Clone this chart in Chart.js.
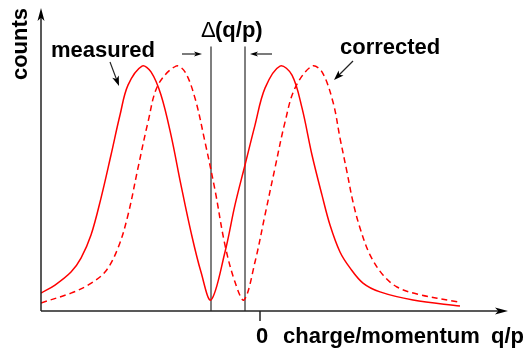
<!DOCTYPE html>
<html>
<head>
<meta charset="utf-8">
<script src="https://cdn.jsdelivr.net/npm/chart.js@4/dist/chart.umd.min.js"></script>
<style>
  html, body { margin: 0; padding: 0; background: #fff; }
  canvas { display: block; }
</style>
</head>
<body>
<canvas id="chart" width="527" height="349"></canvas>
<script>
// q/p values (arbitrary units, 0 at the tick) and counts (peak = 100)
const measuredQ = [-2.19, -2.05, -1.89, -1.79, -1.69, -1.59, -1.49, -1.40, -1.32, -1.18, -1.09, -0.99, -0.89, -0.79, -0.69, -0.59, -0.49,
  -0.35, -0.25, -0.15, -0.05, 0.05, 0.20, 0.32, 0.42, 0.52, 0.62, 0.70, 0.80, 0.90, 1.03, 1.20, 1.53, 2.00];
const measuredCounts = [7.3, 10.6, 15.9, 21.6, 31.0, 46.1, 63.7, 80.0, 92.2, 100, 97.6, 88.2, 71.8, 51.4, 32.2, 15.9, 4.5,
  24.1, 43.3, 59.6, 75.9, 91.0, 100, 96.3, 82.9, 63.7, 47.3, 35.1, 24.1, 17.6, 11.4, 7.8, 4.5, 2.0];

const correctedQ = [-2.19, -1.89, -1.72, -1.55, -1.42, -1.32, -1.22, -1.12, -1.02, -0.84, -0.75, -0.65, -0.55, -0.45, -0.35, -0.25, -0.16,
  -0.05, 0.05, 0.15, 0.25, 0.35, 0.52, 0.62, 0.73, 0.80, 0.87, 0.93, 1.00, 1.10, 1.23, 1.37, 1.57, 1.98];
const correctedCounts = [3.3, 7.3, 10.6, 15.9, 25.7, 39.2, 58.4, 77.1, 92.2, 100, 97.6, 86.9, 69.0, 49.4, 26.9, 11.8, 4.5,
  20.0, 39.2, 58.4, 77.1, 91.0, 100, 97.6, 85.3, 70.6, 56.7, 44.5, 33.9, 22.9, 14.7, 9.8, 6.9, 3.7];

// the two markers of the shift Δ(q/p)
const shiftMarkers = [-0.49, -0.15];
const markerTop = 108;

const xTicks = [0];
const xTickLabels = ['0'];

const toPoints = (xs, ys) => xs.map((x, i) => ({ x: x, y: ys[i] }));

const FONT = 'bold 22px "Liberation Sans", Arial, sans-serif';

function arrow(ctx, x1, y1, x2, y2, len, half) {
    const a = Math.atan2(y2 - y1, x2 - x1);
    ctx.beginPath();
    ctx.moveTo(x1, y1);
    ctx.lineTo(x2 - Math.cos(a) * len * 0.6, y2 - Math.sin(a) * len * 0.6);
    ctx.stroke();
    ctx.beginPath();
    ctx.moveTo(x2, y2);
    ctx.lineTo(x2 - Math.cos(a) * len - Math.sin(a) * half, y2 - Math.sin(a) * len + Math.cos(a) * half);
    ctx.lineTo(x2 - Math.cos(a) * len * 0.75, y2 - Math.sin(a) * len * 0.75);
    ctx.lineTo(x2 - Math.cos(a) * len + Math.sin(a) * half, y2 - Math.sin(a) * len - Math.cos(a) * half);
    ctx.closePath();
    ctx.fill();
}

const annotations = {
    id: 'annotations',
    afterDraw(chart) {
        const ctx = chart.ctx;
        const area = chart.chartArea;
        const xs = chart.scales.x;
        ctx.save();
        ctx.strokeStyle = '#222';
        ctx.fillStyle = '#000';
        ctx.lineWidth = 1.5;
        // axes with arrows
        arrow(ctx, area.left, area.bottom, area.left, area.top, 13, 3.5);
        arrow(ctx, area.left, area.bottom, area.right, area.bottom, 13, 3.5);
        // ticks and labels
        ctx.font = FONT;
        ctx.textAlign = 'center';
        ctx.textBaseline = 'alphabetic';
        xTicks.forEach((t, i) => {
            const px = xs.getPixelForValue(t);
            ctx.beginPath();
            ctx.moveTo(px, area.bottom);
            ctx.lineTo(px, area.bottom + 10);
            ctx.stroke();
            ctx.fillText(xTickLabels[i], px + 2, 343);
        });
        ctx.textAlign = 'left';
        ctx.fillText('charge/momentum', 283, 343);
        ctx.fillText('q/p', 491, 343);
        // y title
        ctx.save();
        ctx.translate(27, 44);
        ctx.rotate(-Math.PI / 2);
        ctx.textAlign = 'center';
        ctx.fillText('counts', 0, 0);
        ctx.restore();
        // curve labels
        ctx.fillText('measured', 51, 57);
        ctx.fillText('corrected', 340, 54);
        ctx.lineWidth = 1.2;
        arrow(ctx, 110, 62, 119, 86, 10, 3.5);
        arrow(ctx, 353, 61, 334, 80, 10, 3.5);
        // shift label
        ctx.font = '22px "Liberation Sans", Arial, sans-serif';
        ctx.fillText('\u0394', 201, 37);
        ctx.font = FONT;
        ctx.fillText('(q/p)', 215, 37);
        const l = xs.getPixelForValue(shiftMarkers[0]);
        const r = xs.getPixelForValue(shiftMarkers[1]);
        arrow(ctx, l - 29, 54, l - 9, 54, 8, 2.5);
        arrow(ctx, r + 27, 54, r + 5, 54, 8, 2.5);
        ctx.restore();
    }
};

new Chart(document.getElementById('chart'), {
    type: 'line',
    data: {
        datasets: [
            { label: 'measured', data: toPoints(measuredQ, measuredCounts), borderColor: '#ff0000', borderWidth: 1.5, tension: 0.35 },
            { label: 'corrected', data: toPoints(correctedQ, correctedCounts), borderColor: '#ff0000', borderWidth: 1.5, borderDash: [6, 4], tension: 0.35 },
            { label: 'marker1', data: [{ x: shiftMarkers[0], y: 0 }, { x: shiftMarkers[0], y: markerTop }], borderColor: '#555', borderWidth: 1.5 },
            { label: 'marker2', data: [{ x: shiftMarkers[1], y: 0 }, { x: shiftMarkers[1], y: markerTop }], borderColor: '#000', borderWidth: 1 }
        ]
    },
    options: {
        responsive: false,
        animation: false,
        layout: { padding: { left: 41, right: 19, top: 8, bottom: 38 } },
        elements: { point: { radius: 0 } },
        plugins: { legend: { display: false }, tooltip: { enabled: false } },
        scales: {
            x: { type: 'linear', display: false, min: -2.19, max: 2.48 },
            y: { display: false, min: 0, max: 123.7 }
        }
    },
    plugins: [annotations]
});
</script>
</body>
</html>
